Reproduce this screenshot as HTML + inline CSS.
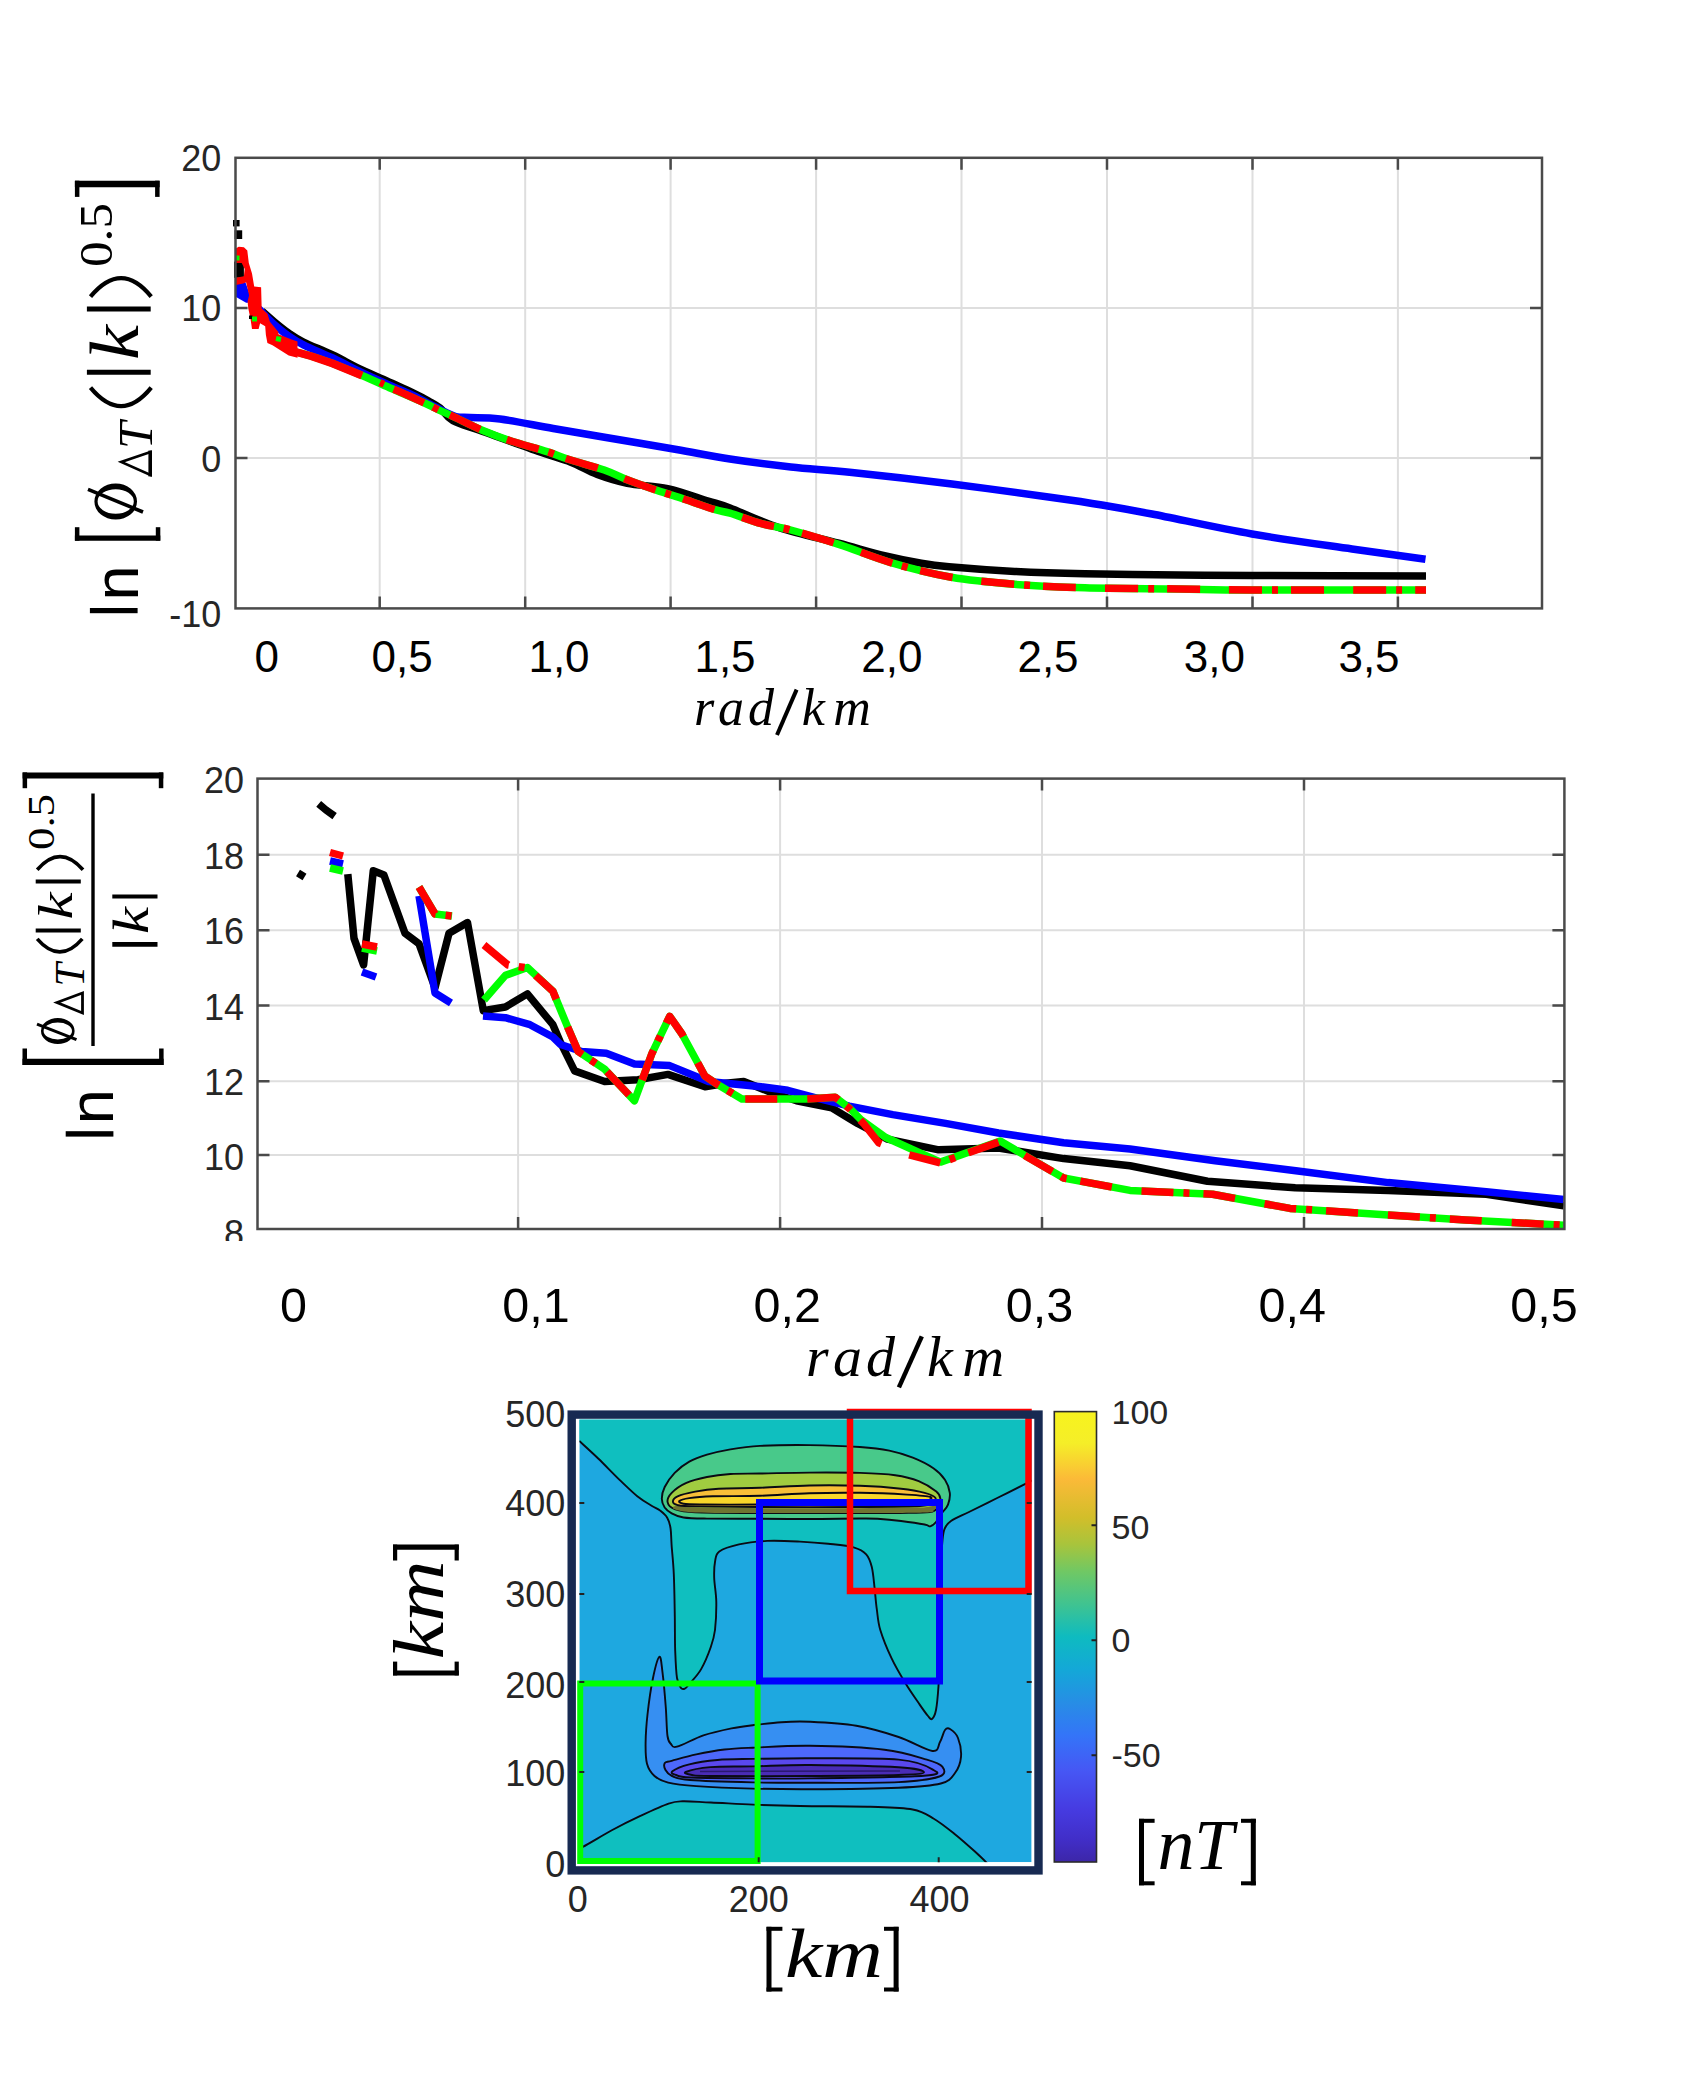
<!DOCTYPE html><html><head><meta charset="utf-8"><title>Figure</title><style>html,body{margin:0;padding:0;background:#fff;}svg{display:block;}</style></head><body>
<svg width="1704" height="2093" viewBox="0 0 1704 2093">
<rect x="0" y="0" width="1704" height="2093" fill="#fff"/>
<g stroke="#dedede" stroke-width="2"><line x1="379.7" y1="157.8" x2="379.7" y2="608.4"/><line x1="525.2" y1="157.8" x2="525.2" y2="608.4"/><line x1="670.6" y1="157.8" x2="670.6" y2="608.4"/><line x1="816.1" y1="157.8" x2="816.1" y2="608.4"/><line x1="961.5" y1="157.8" x2="961.5" y2="608.4"/><line x1="1107" y1="157.8" x2="1107" y2="608.4"/><line x1="1252.5" y1="157.8" x2="1252.5" y2="608.4"/><line x1="1397.9" y1="157.8" x2="1397.9" y2="608.4"/><line x1="235.5" y1="308" x2="1542" y2="308"/><line x1="235.5" y1="458" x2="1542" y2="458"/></g>
<rect x="233" y="220" width="6.6" height="6.4" fill="#000"/>
<rect x="234.6" y="230.3" width="7.6" height="8.7" fill="#000"/>
<rect x="234.1" y="261.6" width="9.8" height="16.2" fill="#000"/>
<rect x="235.5" y="254.3" width="4.5" height="7.5" fill="#0000ff"/>
<path d="M262,311 C264,312.8 269.6,317.8 274,321.5 C278.4,325.2 283.8,329.6 288.7,333 C293.6,336.4 296.1,338.3 303.4,342 C310.7,345.7 322.9,350.3 332.7,355 C342.5,359.7 352.2,365.3 362,370 C371.8,374.7 383.1,379.2 391.4,383 C399.7,386.8 405.8,389.5 412,392.5 C418.2,395.5 423.9,398.4 428.6,401 C433.3,403.6 435.9,404.7 440,408 C444.1,411.3 445.9,416.9 453,420.8 C460.1,424.7 468.3,426.2 482.8,431.4 C497.3,436.6 525.3,446.9 540,452 C554.7,457.1 561.2,458.4 570.8,462.2 C580.3,465.9 587.9,471 597.3,474.5 C606.7,478 615.5,480.9 627.2,483.3 C638.9,485.7 654.2,485.7 667.7,488.6 C681.2,491.6 697.8,497.8 708.2,501 C718.6,504.2 718,503.5 730,508 C742,512.5 761.9,522.1 780,528 C798.1,533.9 821.1,538.5 838.7,543.2 C856.3,547.9 872.1,552.7 885.6,556 C899.1,559.3 909.4,561.2 920,563 C930.6,564.8 933.2,565.3 949,566.7 C964.8,568.1 992,570.2 1014.7,571.4 C1037.4,572.6 1057.6,573.2 1085,573.8 C1112.4,574.4 1151.2,574.7 1179,575 C1206.8,575.3 1210.8,575.4 1252,575.5 C1293.2,575.6 1397,575.8 1426,575.9" fill="none" stroke="#000" stroke-width="7.5" stroke-linejoin="round" />
<polygon points="235.6,282.2 245.4,282.2 249.1,292.4 250.5,302.7 246.1,302.7 235.6,296.8" fill="#0000ff"/>
<path d="M250,302 C251.3,303 255.5,305.8 258,308 C260.5,310.2 262.3,312.8 265,315.5 C267.7,318.2 270.1,320.9 274,324.3 C277.9,327.7 283.8,332.6 288.7,336 C293.6,339.4 296.1,341.1 303.4,344.8 C310.7,348.5 322.9,353.4 332.7,358 C342.5,362.6 352.2,368 362,372.7 C371.8,377.4 383.1,382.3 391.4,386 C399.7,389.7 405.8,392.1 412,395 C418.2,397.9 423.1,400.7 428.6,403.5 C434.1,406.3 440.4,409.8 445,412 C449.6,414.2 451.8,415.7 456,416.6 C460.2,417.5 462.7,417.2 470,417.6 C477.3,418 486.1,417.2 500,419 C513.9,420.8 535.5,425.4 553.2,428.5 C570.9,431.6 585.5,434 606,437.5 C626.5,441 655.8,445.9 676.5,449.5 C697.2,453.1 711,456.1 730,459 C749,461.9 770.5,464.8 790.8,467 C811.1,469.2 825.1,469.7 852,472.5 C878.9,475.3 918.7,479.8 952,484 C985.3,488.2 1027,494 1052,497.5 C1077,501 1085.3,502.2 1102,505 C1118.7,507.8 1127,509.2 1152,514 C1177,518.8 1218.7,528.2 1252,534 C1285.3,539.8 1323.1,544.8 1352,549 C1380.9,553.2 1413.2,557.5 1425.5,559.2" fill="none" stroke="#0000ff" stroke-width="7.5" stroke-linejoin="round" />
<path d="M296,352 C298.4,352.7 304.6,354.1 310.7,356 C316.8,357.9 324.1,360.2 332.7,363.5 C341.2,366.8 352.2,371.3 362,375.5 C371.8,379.7 381,383.9 391.4,388.5 C401.8,393.1 416.6,399.4 424.5,403 C432.4,406.6 433.8,407.6 438.5,409.8 C443.2,412 445.5,412.9 452.9,416.4 C460.3,419.8 473.1,426.4 482.8,430.5 C492.5,434.6 500.3,437.5 511,441 C521.7,444.5 537.3,448.5 547,451.6 C556.7,454.7 559.5,456.4 569,459.5 C578.5,462.6 594.6,466.6 604.3,470 C614,473.4 618.4,476.4 627.2,479.8 C636,483.2 647.5,487.2 657,490.4 C666.5,493.6 674.7,496 684.4,499.2 C694.1,502.4 707.6,507.4 715.2,509.7 C722.8,512 722.3,510.9 730,513.2 C737.7,515.5 751.4,520.9 761.5,523.7 C771.6,526.5 777.9,526.5 790.8,530 C803.7,533.5 821.7,538.9 838.7,544.4 C855.7,549.9 873.9,557.7 892.7,563.2 C911.5,568.7 931.1,573.8 951.4,577.3 C971.7,580.8 992.4,582.5 1014.7,584.3 C1037,586 1057.6,587 1085,587.8 C1112.4,588.6 1151.2,588.6 1179,589 C1206.8,589.4 1210.8,589.8 1252,590 C1293.2,590.2 1397,590 1426,590" fill="none" stroke="#00ff00" stroke-width="7.5" stroke-linejoin="round" />
<polygon points="235.6,248.4 238.8,246.7 243.9,247.2 247.3,250.6 248.8,263.1 252,273.4 254.2,286.6 261.1,287.3 261.7,308.6 267.4,313.7 269.9,321.8 278.4,332 278.4,334.2 291.6,339.4 297.5,341.6 297.5,357.7 288.7,355.5 278.4,348.9 272.5,345.2 267.4,343 265.9,335 265.2,326.2 260.1,323.2 258.6,329.1 252,329.1 250.5,318.8 248.3,308.6 247.6,301.2 249.1,295.4 246.1,282.2 243.2,283.6 235.9,285.1 235.9,277.8 243.9,276.3 244.7,269 241.7,263.1 235.9,263.1" fill="#ff0000"/>
<rect x="249" y="315.5" width="3.5" height="3.5" fill="#000"/>
<polyline points="235.5,258 239.5,258" fill="none" stroke="#00ff00" stroke-width="5" stroke-linejoin="round" />
<polyline points="252,319 257,319" fill="none" stroke="#00ff00" stroke-width="5" stroke-linejoin="round" />
<polyline points="276,338.5 281,339.5" fill="none" stroke="#00ff00" stroke-width="5" stroke-linejoin="round" />
<polyline points="296,352 310.7,356 332.7,363.5 362,375.5" fill="none" stroke="#ff0000" stroke-width="8" stroke-linejoin="round" />
<polyline points="380,382.5 384,384.3" fill="none" stroke="#ff0000" stroke-width="7" stroke-linejoin="round" />
<path d="M389,391.5 C389.4,391 385.5,386.6 391.4,388.5 C397.3,390.4 416.6,399.4 424.5,403 C432.4,406.6 433.8,407.6 438.5,409.8 C443.2,412 445.5,412.9 452.9,416.4 C460.3,419.8 473.1,426.4 482.8,430.5 C492.5,434.6 500.3,437.5 511,441 C521.7,444.5 537.3,448.5 547,451.6 C556.7,454.7 559.5,456.4 569,459.5 C578.5,462.6 594.6,466.6 604.3,470 C614,473.4 618.4,476.4 627.2,479.8 C636,483.2 647.5,487.2 657,490.4 C666.5,493.6 674.7,496 684.4,499.2 C694.1,502.4 707.6,507.4 715.2,509.7 C722.8,512 722.3,510.9 730,513.2 C737.7,515.5 751.4,520.9 761.5,523.7 C771.6,526.5 777.9,526.5 790.8,530 C803.7,533.5 821.7,538.9 838.7,544.4 C855.7,549.9 873.9,557.7 892.7,563.2 C911.5,568.7 931.1,573.8 951.4,577.3 C971.7,580.8 992.4,582.5 1014.7,584.3 C1037,586 1057.6,587 1085,587.8 C1112.4,588.6 1151.2,588.6 1179,589 C1206.8,589.4 1210.8,589.8 1252,590 C1293.2,590.2 1397,590 1426,590" fill="none" stroke="#ff0000" stroke-width="7.5" stroke-linejoin="round" stroke-dasharray="33 10 6 13 33 29" stroke-dashoffset="-9"/>
<path d="M379.7,608.4v-12M379.7,157.8v12M525.2,608.4v-12M525.2,157.8v12M670.6,608.4v-12M670.6,157.8v12M816.1,608.4v-12M816.1,157.8v12M961.5,608.4v-12M961.5,157.8v12M1107,608.4v-12M1107,157.8v12M1252.5,608.4v-12M1252.5,157.8v12M1397.9,608.4v-12M1397.9,157.8v12M235.5,308h12M1542,308h-12M235.5,458h12M1542,458h-12" stroke="#4a4a4a" stroke-width="2.5" fill="none"/>
<rect x="235.5" y="157.8" width="1306.5" height="450.6" fill="none" stroke="#4a4a4a" stroke-width="2.5"/>
<text x="221.2" y="170.8" font-family='"Liberation Sans", sans-serif' font-size="36" text-anchor="end" fill="#262626" >20</text>
<text x="221.2" y="321" font-family='"Liberation Sans", sans-serif' font-size="36" text-anchor="end" fill="#262626" >10</text>
<text x="221.2" y="472.3" font-family='"Liberation Sans", sans-serif' font-size="36" text-anchor="end" fill="#262626" >0</text>
<text x="221.2" y="627" font-family='"Liberation Sans", sans-serif' font-size="36" text-anchor="end" fill="#262626" >-10</text>
<text x="266.7" y="671.5" font-family='"Liberation Sans", sans-serif' font-size="44" text-anchor="middle" fill="#000" >0</text>
<text x="402.2" y="671.5" font-family='"Liberation Sans", sans-serif' font-size="44" text-anchor="middle" fill="#000" >0,5</text>
<text x="559" y="671.5" font-family='"Liberation Sans", sans-serif' font-size="44" text-anchor="middle" fill="#000" >1,0</text>
<text x="725" y="671.5" font-family='"Liberation Sans", sans-serif' font-size="44" text-anchor="middle" fill="#000" >1,5</text>
<text x="891.8" y="671.5" font-family='"Liberation Sans", sans-serif' font-size="44" text-anchor="middle" fill="#000" >2,0</text>
<text x="1048" y="671.5" font-family='"Liberation Sans", sans-serif' font-size="44" text-anchor="middle" fill="#000" >2,5</text>
<text x="1214.3" y="671.5" font-family='"Liberation Sans", sans-serif' font-size="44" text-anchor="middle" fill="#000" >3,0</text>
<text x="1369" y="671.5" font-family='"Liberation Sans", sans-serif' font-size="44" text-anchor="middle" fill="#000" >3,5</text>
<text x="733.9" y="724.9" font-family='"Liberation Serif", serif' font-size="52" text-anchor="middle" fill="#000" font-style="italic" textLength="80" lengthAdjust="spacing">rad</text>
<line x1="796.6" y1="689.6" x2="777" y2="735" stroke="#000" stroke-width="4"/>
<text x="836.3" y="724.9" font-family='"Liberation Serif", serif' font-size="52" text-anchor="middle" fill="#000" font-style="italic" textLength="69" lengthAdjust="spacing">km</text>
<rect x="89.9" y="608" width="47.7" height="5.2" fill="#000"/>
<text x="137.6" y="582.9" transform="rotate(-90 137.6 582.9)" font-family='"Liberation Sans", sans-serif' font-size="63" text-anchor="middle" fill="#000" >n</text>
<path d="M74.9,535.4H160.3V540.7H74.9Z" fill="#000"/><rect x="74.9" y="527.2" width="4.5" height="13.5" fill="#000"/><rect x="155.8" y="527.2" width="4.5" height="13.5" fill="#000"/>
<path d="M74.9,180.7H159.6V187.3H74.9Z" fill="#000"/><rect x="74.9" y="180.7" width="4.5" height="16.2" fill="#000"/><rect x="155.1" y="180.7" width="4.5" height="16.2" fill="#000"/>
<path fill-rule="evenodd" fill="#000" d="M94.4,501.5 a21.3,18 0 1,0 42.6,0 a21.3,18 0 1,0 -42.6,0 Z M97.6,501.5 a18.1,12.2 0 1,0 36.2,0 a18.1,12.2 0 1,0 -36.2,0 Z"/>
<line x1="88" y1="489.4" x2="143" y2="512" stroke="#000" stroke-width="3.6"/>
<path d="M150.5,452 L121.2,462 L150.5,475 Z" fill="none" stroke="#000" stroke-width="2.6" stroke-linejoin="miter"/>
<line x1="150.2" y1="450.6" x2="150.2" y2="476.4" stroke="#000" stroke-width="3.6"/>
<text x="152" y="435.3" transform="rotate(-90 152 435.3)" font-family='"Liberation Serif", serif' font-size="49" text-anchor="middle" fill="#000" font-style="italic" >T</text>
<path d="M90.5,387.6 Q121.3,424.5 151.2,387.6" fill="none" stroke="#000" stroke-width="4.2"/>
<path d="M90.5,296.6 Q121.3,259.5 151.2,296.6" fill="none" stroke="#000" stroke-width="4.2"/>
<line x1="86.9" y1="372.3" x2="150.7" y2="372.3" stroke="#000" stroke-width="5"/>
<line x1="86.9" y1="309" x2="150.7" y2="309" stroke="#000" stroke-width="5"/>
<text x="137.6" y="342.5" transform="rotate(-90 137.6 342.5)" font-family='"Liberation Serif", serif' font-size="70" text-anchor="middle" fill="#000" font-style="italic" textLength="35" lengthAdjust="spacingAndGlyphs">k</text>
<text x="111.5" y="235" transform="rotate(-90 111.5 235)" font-family='"Liberation Serif", serif' font-size="47" text-anchor="middle" fill="#000" textLength="64" lengthAdjust="spacingAndGlyphs">0.5</text>
<g stroke="#dedede" stroke-width="2"><line x1="518.1" y1="778.6" x2="518.1" y2="1229"/><line x1="780.1" y1="778.6" x2="780.1" y2="1229"/><line x1="1042" y1="778.6" x2="1042" y2="1229"/><line x1="1304" y1="778.6" x2="1304" y2="1229"/><line x1="257.5" y1="854.8" x2="1564.4" y2="854.8"/><line x1="257.5" y1="930.3" x2="1564.4" y2="930.3"/><line x1="257.5" y1="1005.5" x2="1564.4" y2="1005.5"/><line x1="257.5" y1="1081.2" x2="1564.4" y2="1081.2"/><line x1="257.5" y1="1155" x2="1564.4" y2="1155"/></g>
<polyline points="318.7,803.8 326,810 334.6,816.1" fill="none" stroke="#000" stroke-width="7.5" stroke-linejoin="round" />
<polyline points="298,873 304.5,877" fill="none" stroke="#000" stroke-width="7.5" stroke-linejoin="round" />
<polyline points="347.8,874.2 354,938.4 363.6,964.9 373.3,870.7 383.9,875 405,933.2 419,943.7 435,987.7 449,933.2 467.5,922.6 483.3,1010.6 505.4,1007 527.4,993.9 552.9,1024.7 560.6,1042.7 574.6,1070.9 604.6,1081.5 638,1079.7 668,1074.4 705,1086.8 726,1083.2 743.7,1081.5 770,1092 796.5,1100.8 831.7,1107.9 849.3,1118.5 857.6,1123.4 887.5,1139.2 938.6,1149.8 998.5,1148 1063.6,1158.6 1130,1165.8 1207.5,1181.3 1295.2,1187.8 1388.2,1190.4 1486.3,1194.2 1563.8,1205.9" fill="none" stroke="#000" stroke-width="7.5" stroke-linejoin="round" />
<polyline points="330,861 343,864" fill="none" stroke="#0000ff" stroke-width="7.5" stroke-linejoin="round" />
<polyline points="362,972 376,977" fill="none" stroke="#0000ff" stroke-width="7.5" stroke-linejoin="round" />
<polyline points="419,896 435,993 451,1003" fill="none" stroke="#0000ff" stroke-width="7.5" stroke-linejoin="round" />
<polyline points="483,1016 505.4,1017.7 530,1024.7 552.9,1037 560.6,1044.5 581.7,1051.5 606.3,1053.3 634.5,1063.9 669.7,1065.6 708.5,1081.5 761.3,1086.8 787.7,1090.3 814,1097.3 849.3,1106.1 892.8,1114.6 945.6,1123.4 998.5,1133 1063.6,1142.7 1130,1149 1215.2,1160.7 1297.8,1171 1388.2,1182.6 1486.3,1191.7 1563.8,1199.4" fill="none" stroke="#0000ff" stroke-width="7.5" stroke-linejoin="round" />
<polyline points="330,868 343,871" fill="none" stroke="#00ff00" stroke-width="7.5" stroke-linejoin="round" />
<polyline points="362,948 377,951" fill="none" stroke="#00ff00" stroke-width="7.5" stroke-linejoin="round" />
<polyline points="419,887 435,914 452,916" fill="none" stroke="#00ff00" stroke-width="7.5" stroke-linejoin="round" />
<polyline points="484,1000 505.4,975.4 527.4,967.5 552.9,991.3 567.6,1026.9 578.2,1051.5 604.6,1069.2 634.5,1100.8 652,1053.3 669.7,1016.3 682,1034 705,1076.2 715.5,1083.2 741.9,1099 787.7,1099 805.3,1099 835.2,1097.3 849.3,1107.9 861.1,1119.9 885.8,1137.5 940.4,1162.1 1000.2,1141 1063.6,1178 1130,1190.4 1212.6,1194.2 1290,1208.4 1388.2,1214.9 1465.7,1220 1563.8,1225.2" fill="none" stroke="#00ff00" stroke-width="7.5" stroke-linejoin="round" />
<polyline points="330,852.5 343,856" fill="none" stroke="#ff0000" stroke-width="7.5" stroke-linejoin="round" stroke-dasharray="32 10 6 14 32 30"/>
<polyline points="362,944 377,947" fill="none" stroke="#ff0000" stroke-width="7.5" stroke-linejoin="round" stroke-dasharray="32 10 6 14 32 30"/>
<polyline points="419,887 435,914 452,916" fill="none" stroke="#ff0000" stroke-width="7.5" stroke-linejoin="round" stroke-dasharray="32 10 6 14 32 30"/>
<polyline points="484,945 508,965 527.4,968 552.9,991.3 567.6,1026.9 578.2,1051.5 604.6,1069.2 634.5,1100.8 652,1053.3 669.7,1016.3 682,1034 705,1076.2 715.5,1083.2 741.9,1099 787.7,1099 805.3,1099 835.2,1097.3 849.3,1108.5 864,1124 878.7,1142.7 906.9,1154.2 940.4,1163 966.8,1153.3 1000.2,1141.5 1063.6,1178 1130,1190.4 1212.6,1194.2 1290,1208.4 1388.2,1214.9 1465.7,1220 1563.8,1225.2" fill="none" stroke="#ff0000" stroke-width="7.5" stroke-linejoin="round" stroke-dasharray="32 10 6 14 32 30"/>
<path d="M518.1,1229v-12M518.1,778.6v12M780.1,1229v-12M780.1,778.6v12M1042,1229v-12M1042,778.6v12M1304,1229v-12M1304,778.6v12M257.5,854.8h12M1564.4,854.8h-12M257.5,930.3h12M1564.4,930.3h-12M257.5,1005.5h12M1564.4,1005.5h-12M257.5,1081.2h12M1564.4,1081.2h-12M257.5,1155h12M1564.4,1155h-12" stroke="#4a4a4a" stroke-width="2.5" fill="none"/>
<rect x="257.5" y="778.6" width="1306.9" height="450.4" fill="none" stroke="#4a4a4a" stroke-width="2.5"/>
<text x="244" y="793.4" font-family='"Liberation Sans", sans-serif' font-size="36" text-anchor="end" fill="#262626" >20</text>
<text x="244" y="868.6" font-family='"Liberation Sans", sans-serif' font-size="36" text-anchor="end" fill="#262626" >18</text>
<text x="244" y="944.4" font-family='"Liberation Sans", sans-serif' font-size="36" text-anchor="end" fill="#262626" >16</text>
<text x="244" y="1019.7" font-family='"Liberation Sans", sans-serif' font-size="36" text-anchor="end" fill="#262626" >14</text>
<text x="244" y="1095" font-family='"Liberation Sans", sans-serif' font-size="36" text-anchor="end" fill="#262626" >12</text>
<text x="244" y="1170.3" font-family='"Liberation Sans", sans-serif' font-size="36" text-anchor="end" fill="#262626" >10</text>
<text x="244" y="1245.5" font-family='"Liberation Sans", sans-serif' font-size="36" text-anchor="end" fill="#262626" >8</text>
<rect x="200" y="1241" width="50" height="20" fill="#fff"/>
<text x="293.4" y="1321.5" font-family='"Liberation Sans", sans-serif' font-size="48.5" text-anchor="middle" fill="#000" >0</text>
<text x="536" y="1321.5" font-family='"Liberation Sans", sans-serif' font-size="48.5" text-anchor="middle" fill="#000" >0,1</text>
<text x="787.3" y="1321.5" font-family='"Liberation Sans", sans-serif' font-size="48.5" text-anchor="middle" fill="#000" >0,2</text>
<text x="1039.5" y="1321.5" font-family='"Liberation Sans", sans-serif' font-size="48.5" text-anchor="middle" fill="#000" >0,3</text>
<text x="1292.2" y="1321.5" font-family='"Liberation Sans", sans-serif' font-size="48.5" text-anchor="middle" fill="#000" >0,4</text>
<text x="1544" y="1321.5" font-family='"Liberation Sans", sans-serif' font-size="48.5" text-anchor="middle" fill="#000" >0,5</text>
<text x="850.6" y="1375.6" font-family='"Liberation Serif", serif' font-size="58" text-anchor="middle" fill="#000" font-style="italic" textLength="89" lengthAdjust="spacing">rad</text>
<line x1="921.8" y1="1336.3" x2="898.9" y2="1387.3" stroke="#000" stroke-width="4.5"/>
<text x="965.6" y="1375.6" font-family='"Liberation Serif", serif' font-size="58" text-anchor="middle" fill="#000" font-style="italic" textLength="77" lengthAdjust="spacing">km</text>
<rect x="65.7" y="1131.2" width="47.7" height="5.4" fill="#000"/>
<text x="113.4" y="1106.7" transform="rotate(-90 113.4 1106.7)" font-family='"Liberation Sans", sans-serif' font-size="63" text-anchor="middle" fill="#000" >n</text>
<path d="M22.5,1058.7H163.6V1065H22.5Z" fill="#000"/><rect x="22.5" y="1048.5" width="4.5" height="16.5" fill="#000"/><rect x="159.1" y="1048.5" width="4.5" height="16.5" fill="#000"/>
<path d="M22.6,772.4H163.3V778.6H22.6Z" fill="#000"/><rect x="22.6" y="772.4" width="4.5" height="15.8" fill="#000"/><rect x="158.8" y="772.4" width="4.5" height="15.8" fill="#000"/>
<line x1="93" y1="793.5" x2="93" y2="1046" stroke="#000" stroke-width="3.4"/>
<path fill-rule="evenodd" fill="#000" d="M41,1031 a16.8,13 0 1,0 33.6,0 a16.8,13 0 1,0 -33.6,0 Z M43.6,1031 a14.2,8.4 0 1,0 28.4,0 a14.2,8.4 0 1,0 -28.4,0 Z"/>
<line x1="37" y1="1024.2" x2="76.5" y2="1039.7" stroke="#000" stroke-width="3"/>
<path d="M82.5,993 L57,1002.5 L82.5,1013 Z" fill="none" stroke="#000" stroke-width="2.8"/>
<text x="83.6" y="974.9" transform="rotate(-90 83.6 974.9)" font-family='"Liberation Serif", serif' font-size="42" text-anchor="middle" fill="#000" font-style="italic" >T</text>
<path d="M37.2,938.8 Q59.75,965 82.3,938.8" fill="none" stroke="#000" stroke-width="3.6"/>
<path d="M37.2,869.8 Q60,843.5 83,869.8" fill="none" stroke="#000" stroke-width="3.6"/>
<line x1="35.7" y1="881.5" x2="80.8" y2="881.5" stroke="#000" stroke-width="4"/>
<line x1="35.7" y1="930.4" x2="80.8" y2="930.4" stroke="#000" stroke-width="4"/>
<text x="72.1" y="906" transform="rotate(-90 72.1 906)" font-family='"Liberation Serif", serif' font-size="49" text-anchor="middle" fill="#000" font-style="italic" textLength="27" lengthAdjust="spacingAndGlyphs">k</text>
<text x="54.2" y="822" transform="rotate(-90 54.2 822)" font-family='"Liberation Serif", serif' font-size="38" text-anchor="middle" fill="#000" textLength="56" lengthAdjust="spacingAndGlyphs">0.5</text>
<line x1="112.3" y1="896.5" x2="157.5" y2="896.5" stroke="#000" stroke-width="4.2"/>
<line x1="112.3" y1="944.4" x2="157.5" y2="944.4" stroke="#000" stroke-width="4.6"/>
<text x="148.4" y="920.5" transform="rotate(-90 148.4 920.5)" font-family='"Liberation Serif", serif' font-size="50" text-anchor="middle" fill="#000" font-style="italic" textLength="27" lengthAdjust="spacingAndGlyphs">k</text>
<defs><clipPath id="pc"><rect x="579.3" y="1419.6" width="452.4" height="442.7"/></clipPath>
<linearGradient id="parula" x1="0" y1="0" x2="0" y2="1"><stop offset="0" stop-color="#f7f31e"/><stop offset="0.07" stop-color="#f5ee28"/><stop offset="0.15" stop-color="#fbba38"/><stop offset="0.235" stop-color="#d2be2a"/><stop offset="0.295" stop-color="#a8c43c"/><stop offset="0.355" stop-color="#70c864"/><stop offset="0.43" stop-color="#3ec392"/><stop offset="0.5" stop-color="#0ebbc0"/><stop offset="0.575" stop-color="#14a7d8"/><stop offset="0.65" stop-color="#288ce6"/><stop offset="0.72" stop-color="#3474f8"/><stop offset="0.8" stop-color="#4656f4"/><stop offset="0.88" stop-color="#463ce2"/><stop offset="0.95" stop-color="#412ec8"/><stop offset="1" stop-color="#3c26a8"/></linearGradient></defs>
<g clip-path="url(#pc)">
<rect x="579.3" y="1419.6" width="452.4" height="442.7" fill="#1ea8e0"/>
<path d="M579.3,1441 C582.4,1443.9 591.5,1452.1 598.2,1458.5 C604.9,1464.9 612.7,1473.3 619.3,1479.6 C625.9,1485.9 632.1,1492.1 637.6,1496.5 C643.1,1500.9 648.2,1503.7 652,1506 C655.8,1508.3 657.6,1508.6 660.1,1510.6 C662.6,1512.5 665.5,1514.8 667.2,1517.7 C668.9,1520.6 669.8,1523.5 670.5,1528 C671.2,1532.5 671.1,1537.3 671.6,1545 C672.1,1552.7 673.3,1562.2 673.8,1574 C674.3,1585.8 674.6,1603.2 674.8,1616 C675,1628.8 674.8,1640.7 675.2,1651 C675.6,1661.3 676,1671.8 677,1678 C678,1684.2 679.7,1686.2 681,1688 C682.3,1689.8 683.5,1689.2 685,1688.5 C686.5,1687.8 687,1686.7 689.7,1683.5 C692.4,1680.3 697.5,1675.5 701,1669.4 C704.5,1663.3 708.5,1653.6 710.8,1647 C713.1,1640.4 714.1,1637.5 715,1630 C715.9,1622.5 716.4,1610.7 716.3,1602 C716.2,1593.3 714.4,1584.7 714.2,1578 C714,1571.3 714.1,1566.4 715,1562 C715.9,1557.6 715.3,1554.4 719.3,1551.5 C723.3,1548.6 731,1546.2 739,1544.4 C747,1542.6 757,1541.4 767.2,1540.9 C777.4,1540.4 789.8,1541.1 800,1541.6 C810.2,1542.1 819.3,1542.8 828.2,1543.7 C837.1,1544.7 847.2,1545.5 853.5,1547.3 C859.8,1549.1 863.2,1551 866.2,1554.3 C869.2,1557.6 870.4,1561.4 871.8,1567 C873.2,1572.6 873.8,1581.1 874.6,1588.1 C875.4,1595.1 875.8,1602.2 876.8,1609.2 C877.8,1616.2 877.8,1621.8 880.3,1630 C882.8,1638.2 887.3,1649.3 891.5,1658.2 C895.7,1667.1 900.9,1675.8 905.6,1683.5 C910.3,1691.2 916,1699.2 919.7,1704.6 C923.4,1710 926,1713.6 928,1716 C930,1718.4 930.7,1720 932,1719 C933.3,1718 934.9,1715.5 936,1710 C937.1,1704.5 937.9,1694.7 938.5,1686 C939.1,1677.3 939.4,1667.3 939.4,1658 C939.4,1648.7 938.4,1643 938.5,1630 C938.6,1617 939.3,1595 940,1580 C940.7,1565 941.7,1548.7 942.5,1540 C943.3,1531.3 943.6,1531.2 945,1528 C946.4,1524.8 947,1523.7 951,1521 C955,1518.3 961.3,1515.8 969,1512 C976.7,1508.2 987.8,1502.7 997.2,1498 C1006.6,1493.3 1018.3,1487.4 1025.4,1483.9 C1032.5,1480.4 1037.6,1478.2 1040,1477 L1040,1410 L570,1410 L570,1441 Z" fill="#0fbfbf"/>
<path d="M570,1852 C572.1,1851.2 575.7,1850.6 582.7,1846.9 C589.8,1843.2 602.7,1835.2 612.3,1830 C621.9,1824.8 631,1820.3 640.4,1815.9 C649.8,1811.5 661.5,1806 668.6,1803.6 C675.7,1801.2 675.7,1801.5 682.7,1801.3 C689.7,1801.1 699.1,1802 710.8,1802.5 C722.5,1803 738.1,1804 753,1804.6 C767.9,1805.2 780.4,1805.6 800,1806 C819.6,1806.4 851.6,1806.2 870.4,1806.8 C889.2,1807.4 902.1,1807.5 912.7,1809.5 C923.3,1811.5 926.8,1814.6 933.8,1818.7 C940.8,1822.8 947.9,1828.6 954.9,1834.2 C961.9,1839.8 970.1,1847.2 976,1852.5 C981.9,1857.8 987.7,1863.8 990,1866 L990,1870 L570,1870 Z" fill="#0fbfbf"/>
<path d="M661.8,1498.7 C661.8,1495.3 662.6,1491.3 664.7,1487 C666.9,1482.7 670.6,1477.1 674.7,1472.9 C678.8,1468.7 683.9,1464.7 689.3,1461.7 C694.7,1458.7 700.1,1456.8 707,1454.7 C713.9,1452.7 721.6,1450.9 730.4,1449.4 C739.2,1447.9 746.8,1446.6 760,1445.9 C773.2,1445.2 792.7,1444.9 809.4,1445.1 C826.1,1445.3 846.7,1446.1 860,1447 C873.3,1447.9 880.5,1448.8 889.3,1450.6 C898.1,1452.4 905.4,1454.7 912.8,1457.6 C920.1,1460.5 928,1464.5 933.4,1468.2 C938.8,1471.9 942.4,1475.8 945.1,1479.9 C947.8,1484 949.3,1488.7 949.8,1492.8 C950.3,1496.9 949.3,1501.2 948,1504.6 C946.7,1508 944,1510.1 942,1513 C940,1515.9 937.9,1519.8 936,1522 C934.1,1524.2 932.3,1525.9 930.4,1526.3 C928.5,1526.7 929.5,1525.4 924.6,1524.5 C919.7,1523.6 908.9,1522 901.1,1521 C893.3,1520 884.5,1519.2 877.6,1518.8 C870.8,1518.4 871.4,1518.5 860,1518.5 C848.6,1518.5 826.1,1519 809.4,1519 C792.7,1519 777.1,1518.9 760,1518.8 C742.9,1518.7 719.8,1518.8 707,1518.6 C694.2,1518.4 689.4,1518.4 683.5,1517.5 C677.6,1516.6 674.8,1515.1 671.7,1513.4 C668.6,1511.7 666.4,1510 664.7,1507.5 C663.1,1505 661.8,1502.1 661.8,1498.7 Z" fill="#48c98a" stroke="#0a0a14" stroke-width="1.9"/>
<path d="M667.6,1502.2 C667.1,1499.5 668.6,1496 671.7,1492.8 C674.8,1489.6 680.5,1485.4 686.4,1482.8 C692.3,1480.2 699.7,1478.5 707,1477 C714.3,1475.5 721.6,1474.6 730.4,1474 C739.2,1473.4 746.8,1473.7 760,1473.5 C773.2,1473.3 792.7,1472.7 809.4,1472.6 C826.1,1472.5 845.7,1472.5 860,1472.9 C874.3,1473.3 885.4,1473.8 895.2,1475.2 C905,1476.6 911.9,1478.4 918.7,1481.1 C925.6,1483.8 932.7,1488.7 936.3,1491.6 C939.9,1494.5 940.1,1496.1 940.4,1498.7 C940.7,1501.3 939.7,1504.8 938,1507 C936.3,1509.2 936.3,1511 930,1512 C923.7,1513 911.7,1512.8 900,1513 C888.3,1513.2 883.3,1513 860,1513 C836.7,1513 787.5,1513.1 760,1513 C732.5,1512.9 709.4,1513 695.2,1512.4 C681,1511.8 679.3,1510.9 674.7,1509.2 C670.1,1507.5 668.1,1504.9 667.6,1502.2 Z" fill="#a0cc40" stroke="#0a0a14" stroke-width="1.9"/>
<path d="M676,1506 C679.4,1505.7 681,1507.2 695,1507.6 C709,1508 732.5,1508.1 760,1508.2 C787.5,1508.3 833.3,1508.3 860,1508.2 C886.7,1508.1 907.3,1508.1 920,1507.6 C932.7,1507.1 933.7,1504.6 936,1505 C938.3,1505.4 935.8,1508.8 934,1510 C932.2,1511.2 937.3,1512 925,1512.5 C912.7,1513 887.5,1512.9 860,1513 C832.5,1513.1 787.5,1513.1 760,1513 C732.5,1512.9 709.4,1513 695.2,1512.4 C681,1511.8 677.9,1510.3 674.7,1509.2 C671.5,1508.1 672.6,1506.3 676,1506 Z" fill="#6f7430" stroke="none"/>
<path d="M672.9,1501.6 C672.9,1500.1 673.9,1498 677.6,1496.3 C681.3,1494.6 688.4,1492.9 695.2,1491.6 C702.1,1490.3 707.9,1489.3 718.7,1488.7 C729.5,1488.1 744.9,1488.3 760,1487.8 C775.1,1487.3 792.7,1485.8 809.4,1485.5 C826.1,1485.2 844.7,1485.3 860,1485.8 C875.3,1486.3 890.3,1487.5 901.1,1488.7 C911.9,1489.9 918.9,1491.3 924.6,1492.8 C930.3,1494.3 933.7,1495.8 935.1,1497.5 C936.5,1499.2 935.5,1501.6 933,1503 C930.5,1504.4 932.2,1505.3 920,1506 C907.8,1506.7 886.7,1506.8 860,1507 C833.3,1507.2 787.5,1507.1 760,1507 C732.5,1506.9 708.9,1506.7 695.2,1506.4 C681.5,1506.1 681.3,1505.9 677.6,1505.1 C673.9,1504.3 672.9,1503.1 672.9,1501.6 Z" fill="#f8bf38" stroke="#0a0a14" stroke-width="1.9"/>
<path d="M679.4,1501 C680.4,1500 683.7,1498.9 689.3,1498.1 C694.9,1497.3 701,1496.7 712.8,1496.3 C724.6,1495.9 743.9,1496.3 760,1495.8 C776.1,1495.3 792.7,1493.7 809.4,1493.2 C826.1,1492.7 843.7,1492.6 860,1492.8 C876.3,1493 895.3,1493.9 907,1494.6 C918.7,1495.3 927.4,1495.9 930.4,1497 C933.4,1498.1 930.1,1500 925,1501 C919.9,1502 927.5,1502.4 900,1503 C872.5,1503.6 793.3,1504.2 760,1504.5 C726.7,1504.8 712.8,1504.6 700,1504.5 C687.2,1504.4 686.9,1504.4 683.5,1503.8 C680.1,1503.2 678.4,1502 679.4,1501 Z" fill="#f9d62a" stroke="#0a0a14" stroke-width="1.9"/>
<path d="M659.4,1656.8 C657.8,1657.8 655,1668.4 653,1678 C651,1687.6 648.7,1703.7 647.5,1714.5 C646.3,1725.3 645.7,1734.5 645.6,1742.7 C645.5,1750.9 645.5,1758.2 647,1763.8 C648.5,1769.3 651,1772.9 654.5,1776 C658,1779.1 661.2,1780.9 668.2,1782.6 C675.2,1784.3 682.2,1785.1 696.3,1786.1 C710.4,1787.1 733.8,1788.1 752.7,1788.6 C771.7,1789.1 785.7,1789.3 810,1789.2 C834.3,1789.1 876.8,1788.7 898.6,1787.7 C920.4,1786.8 931.4,1786 940.8,1783.5 C950.2,1781 951.6,1777.5 955,1773 C958.4,1768.5 960.5,1762.6 961,1756.8 C961.5,1751 959.8,1742.6 958,1738 C956.2,1733.4 952.2,1730.3 950,1729 C947.8,1727.7 946.7,1727.8 945,1730 C943.3,1732.2 942.1,1738.5 940,1742 C937.9,1745.5 939.3,1751.8 932.4,1751 C925.5,1750.2 911.3,1741.2 898.6,1737 C885.9,1732.8 871.1,1728.3 856.3,1725.8 C841.5,1723.3 822.5,1722.4 810,1721.8 C797.5,1721.2 790.8,1721.6 781.3,1722.2 C771.8,1722.8 761,1724.2 752.7,1725.2 C744.4,1726.2 739.7,1726.7 731.5,1728.4 C723.3,1730.1 712.5,1732.4 703.4,1735.4 C694.3,1738.5 682.4,1745.3 677,1746.7 C671.6,1748.1 672.6,1745.8 671,1744 C669.4,1742.2 668.4,1742.1 667.5,1736 C666.6,1729.9 666.6,1718.1 665.8,1707.5 C665,1696.9 663.6,1680.8 662.5,1672.3 C661.4,1663.8 661,1655.8 659.4,1656.8 Z" fill="#368ff2" stroke="#0a0a14" stroke-width="1.9"/>
<path d="M664.8,1763 C665.8,1761.5 666.5,1762.2 671.7,1760.8 C677,1759.4 687.5,1756.3 696.3,1754.4 C705.1,1752.5 715.1,1750.6 724.5,1749.5 C733.9,1748.4 738.5,1748.3 752.7,1747.7 C767,1747.1 788,1745.5 810,1745.8 C832,1746.1 865,1747.4 884.5,1749.7 C904,1752 917.2,1756.8 926.8,1759.6 C936.4,1762.4 940.2,1763.8 942.3,1766.6 C944.4,1769.4 946.7,1773.9 939.4,1776.5 C932.1,1779.1 920.2,1781 898.6,1782.1 C877,1783.1 834.3,1782.8 810,1782.8 C785.7,1782.8 772.7,1782.9 752.7,1782.4 C732.7,1781.9 703.5,1781.1 690,1780 C676.5,1778.9 676.1,1777.7 672,1776 C667.9,1774.3 666.7,1772.2 665.5,1770 C664.3,1767.8 663.8,1764.5 664.8,1763 Z" fill="#4d68fb" stroke="#0a0a14" stroke-width="1.9"/>
<path d="M672.4,1771.3 C674.6,1769.5 681.8,1766.2 689.3,1764.3 C696.8,1762.4 706.9,1760.9 717.5,1760 C728.1,1759.1 737.3,1759.2 752.7,1758.9 C768.1,1758.6 785.7,1758.1 810,1758.2 C834.3,1758.3 878.2,1757.7 898.6,1759.6 C919,1761.5 928.2,1766.7 932.4,1769.4 C936.6,1772.1 944.4,1774.3 924,1775.8 C903.6,1777.3 838.5,1778 810,1778.4 C781.5,1778.8 772.7,1778.6 752.7,1778.4 C732.7,1778.2 702.8,1778.1 690,1777.5 C677.2,1776.9 678.9,1776 676,1775 C673.1,1774 670.2,1773.1 672.4,1771.3 Z" fill="#5a48ee" stroke="#0a0a14" stroke-width="1.9"/>
<path d="M685.8,1772 C688.9,1770.7 699.2,1768 710.4,1767.1 C721.5,1766.2 736.1,1766.8 752.7,1766.4 C769.3,1766.1 785.7,1764.8 810,1765 C834.3,1765.2 879.6,1766.1 898.6,1767.3 C917.6,1768.5 924,1771 924,1772.3 C924,1773.6 917.6,1774.4 898.6,1775 C879.6,1775.6 841.3,1775.8 810,1776 C778.7,1776.2 730.5,1776.2 710.8,1776 C691.1,1775.8 696.2,1775.7 692,1775 C687.8,1774.3 682.7,1773.3 685.8,1772 Z" fill="#4a2cb6" stroke="#0a0a14" stroke-width="1.9"/>
<path d="M700,1771.5 L900,1771" stroke="#2a1870" stroke-width="1.5"/>
<path d="M579.3,1441 C582.4,1443.9 591.5,1452.1 598.2,1458.5 C604.9,1464.9 612.7,1473.3 619.3,1479.6 C625.9,1485.9 632.1,1492.1 637.6,1496.5 C643.1,1500.9 648.2,1503.7 652,1506 C655.8,1508.3 657.6,1508.6 660.1,1510.6 C662.6,1512.5 665.5,1514.8 667.2,1517.7 C668.9,1520.6 669.8,1523.5 670.5,1528 C671.2,1532.5 671.1,1537.3 671.6,1545 C672.1,1552.7 673.3,1562.2 673.8,1574 C674.3,1585.8 674.6,1603.2 674.8,1616 C675,1628.8 674.8,1640.7 675.2,1651 C675.6,1661.3 676,1671.8 677,1678 C678,1684.2 679.7,1686.2 681,1688 C682.3,1689.8 683.5,1689.2 685,1688.5 C686.5,1687.8 687,1686.7 689.7,1683.5 C692.4,1680.3 697.5,1675.5 701,1669.4 C704.5,1663.3 708.5,1653.6 710.8,1647 C713.1,1640.4 714.1,1637.5 715,1630 C715.9,1622.5 716.4,1610.7 716.3,1602 C716.2,1593.3 714.4,1584.7 714.2,1578 C714,1571.3 714.1,1566.4 715,1562 C715.9,1557.6 715.3,1554.4 719.3,1551.5 C723.3,1548.6 731,1546.2 739,1544.4 C747,1542.6 757,1541.4 767.2,1540.9 C777.4,1540.4 789.8,1541.1 800,1541.6 C810.2,1542.1 819.3,1542.8 828.2,1543.7 C837.1,1544.7 847.2,1545.5 853.5,1547.3 C859.8,1549.1 863.2,1551 866.2,1554.3 C869.2,1557.6 870.4,1561.4 871.8,1567 C873.2,1572.6 873.8,1581.1 874.6,1588.1 C875.4,1595.1 875.8,1602.2 876.8,1609.2 C877.8,1616.2 877.8,1621.8 880.3,1630 C882.8,1638.2 887.3,1649.3 891.5,1658.2 C895.7,1667.1 900.9,1675.8 905.6,1683.5 C910.3,1691.2 916,1699.2 919.7,1704.6 C923.4,1710 926,1713.6 928,1716 C930,1718.4 930.7,1720 932,1719 C933.3,1718 934.9,1715.5 936,1710 C937.1,1704.5 937.9,1694.7 938.5,1686 C939.1,1677.3 939.4,1667.3 939.4,1658 C939.4,1648.7 938.4,1643 938.5,1630 C938.6,1617 939.3,1595 940,1580 C940.7,1565 941.7,1548.7 942.5,1540 C943.3,1531.3 943.6,1531.2 945,1528 C946.4,1524.8 947,1523.7 951,1521 C955,1518.3 961.3,1515.8 969,1512 C976.7,1508.2 987.8,1502.7 997.2,1498 C1006.6,1493.3 1018.3,1487.4 1025.4,1483.9 C1032.5,1480.4 1037.6,1478.2 1040,1477" fill="none" stroke="#0a0a14" stroke-width="1.9"/>
<path d="M570,1852 C572.1,1851.2 575.7,1850.6 582.7,1846.9 C589.8,1843.2 602.7,1835.2 612.3,1830 C621.9,1824.8 631,1820.3 640.4,1815.9 C649.8,1811.5 661.5,1806 668.6,1803.6 C675.7,1801.2 675.7,1801.5 682.7,1801.3 C689.7,1801.1 699.1,1802 710.8,1802.5 C722.5,1803 738.1,1804 753,1804.6 C767.9,1805.2 780.4,1805.6 800,1806 C819.6,1806.4 851.6,1806.2 870.4,1806.8 C889.2,1807.4 902.1,1807.5 912.7,1809.5 C923.3,1811.5 926.8,1814.6 933.8,1818.7 C940.8,1822.8 947.9,1828.6 954.9,1834.2 C961.9,1839.8 970.1,1847.2 976,1852.5 C981.9,1857.8 987.7,1863.8 990,1866" fill="none" stroke="#0a0a14" stroke-width="1.9"/>
</g>
<path d="M577.6,1418.8 V1864 H1033.3 V1418.8" fill="none" stroke="#fff" stroke-width="3"/>
<rect x="580.2" y="1683.5" width="177.4" height="177.5" fill="none" stroke="#00ff00" stroke-width="6"/>
<rect x="759.5" y="1502.5" width="180" height="178.5" fill="none" stroke="#0000ff" stroke-width="7"/>
<rect x="850" y="1412" width="178.5" height="179" fill="none" stroke="#ff0000" stroke-width="6.5"/>
<rect x="571.7" y="1414.6" width="466.8" height="455.8" fill="none" stroke="#172a52" stroke-width="8.4"/>
<path d="M579.3,1503h5M1031.7,1503h-5M579.3,1594h5M1031.7,1594h-5M579.3,1682h5M1031.7,1682h-5M579.3,1772h5M1031.7,1772h-5M758.7,1862.3v-5M938.7,1862.3v-5" stroke="#222" stroke-width="2" fill="none"/>
<text x="565.3" y="1426.7" font-family='"Liberation Sans", sans-serif' font-size="36" text-anchor="end" fill="#262626" >500</text>
<text x="565.3" y="1516.2" font-family='"Liberation Sans", sans-serif' font-size="36" text-anchor="end" fill="#262626" >400</text>
<text x="565.3" y="1606.5" font-family='"Liberation Sans", sans-serif' font-size="36" text-anchor="end" fill="#262626" >300</text>
<text x="565.3" y="1697.8" font-family='"Liberation Sans", sans-serif' font-size="36" text-anchor="end" fill="#262626" >200</text>
<text x="565.3" y="1786.3" font-family='"Liberation Sans", sans-serif' font-size="36" text-anchor="end" fill="#262626" >100</text>
<text x="565.3" y="1876.6" font-family='"Liberation Sans", sans-serif' font-size="36" text-anchor="end" fill="#262626" >0</text>
<text x="577.8" y="1912.3" font-family='"Liberation Sans", sans-serif' font-size="36" text-anchor="middle" fill="#262626" >0</text>
<text x="758.7" y="1912.3" font-family='"Liberation Sans", sans-serif' font-size="36" text-anchor="middle" fill="#262626" >200</text>
<text x="939.5" y="1912.3" font-family='"Liberation Sans", sans-serif' font-size="36" text-anchor="middle" fill="#262626" >400</text>
<rect x="1054.3" y="1411.6" width="42.2" height="450.4" fill="url(#parula)" stroke="#2b2b2b" stroke-width="1.6"/>
<path d="M1096.5,1525.2h-5M1096.5,1640.2h-5M1096.5,1755.2h-5" stroke="#222" stroke-width="2" fill="none"/>
<text x="1111.5" y="1424" font-family='"Liberation Sans", sans-serif' font-size="34" text-anchor="start" fill="#262626" >100</text>
<text x="1111.5" y="1538.8" font-family='"Liberation Sans", sans-serif' font-size="34" text-anchor="start" fill="#262626" >50</text>
<text x="1111.5" y="1652.4" font-family='"Liberation Sans", sans-serif' font-size="34" text-anchor="start" fill="#262626" >0</text>
<text x="1111.5" y="1767.3" font-family='"Liberation Sans", sans-serif' font-size="34" text-anchor="start" fill="#262626" >-50</text>
<rect x="766.5" y="1926.8" width="5" height="64.7" fill="#000"/><rect x="766.5" y="1926.8" width="15.9" height="4" fill="#000"/><rect x="766.5" y="1987.5" width="15.9" height="4" fill="#000"/>
<rect x="893.6" y="1926.8" width="5" height="64.7" fill="#000"/><rect x="884" y="1926.8" width="14.6" height="4" fill="#000"/><rect x="884" y="1987.5" width="14.6" height="4" fill="#000"/>
<text x="834" y="1977" font-family='"Liberation Serif", serif' font-size="70" text-anchor="middle" fill="#000" font-style="italic" textLength="98" lengthAdjust="spacingAndGlyphs">km</text>
<path d="M393,1670.5H458.8V1675.4H393Z" fill="#000"/><rect x="393" y="1661.6" width="4.2" height="13.8" fill="#000"/><rect x="454.6" y="1661.6" width="4.2" height="13.8" fill="#000"/>
<path d="M393,1544.6H458.8V1549.8H393Z" fill="#000"/><rect x="393" y="1544.6" width="4.2" height="15.9" fill="#000"/><rect x="454.6" y="1544.6" width="4.2" height="15.9" fill="#000"/>
<text x="443" y="1610" transform="rotate(-90 443 1610)" font-family='"Liberation Serif", serif' font-size="72" text-anchor="middle" fill="#000" font-style="italic" textLength="99" lengthAdjust="spacingAndGlyphs">km</text>
<rect x="1139" y="1818.8" width="5" height="66.5" fill="#000"/><rect x="1139" y="1818.8" width="15.6" height="4" fill="#000"/><rect x="1139" y="1881.3" width="15.6" height="4" fill="#000"/>
<rect x="1250.8" y="1818.8" width="5" height="66.5" fill="#000"/><rect x="1241" y="1818.8" width="14.8" height="4" fill="#000"/><rect x="1241" y="1881.3" width="14.8" height="4" fill="#000"/>
<text x="1176" y="1869.1" font-family='"Liberation Serif", serif' font-size="74" text-anchor="middle" fill="#000" font-style="italic" textLength="37" lengthAdjust="spacingAndGlyphs">n</text>
<text x="1214" y="1869.1" font-family='"Liberation Serif", serif' font-size="71" text-anchor="middle" fill="#000" font-style="italic" >T</text>
</svg></body></html>
